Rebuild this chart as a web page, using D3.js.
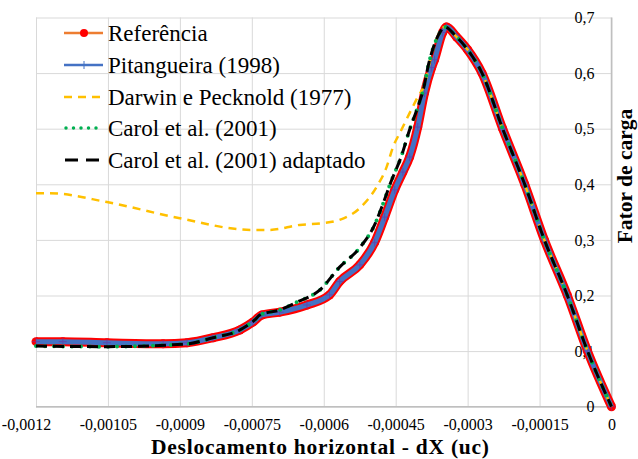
<!DOCTYPE html>
<html lang="pt">
  <head>
    <meta charset="UTF-8" />
    <title>Fator de carga x deslocamento</title>
    <style>
      body { margin: 0; background: #fff; }
      svg { display: block; }
      svg text { font-family: "Liberation Serif", "Times New Roman", serif; }
      .grid line { stroke: #d9d9d9; stroke-width: 1; }
      .grid path { display: none; }
    </style>
  </head>
  <body>
    <div class="chart"></div>
    <script src="https://d3js.org/d3.v7.min.js"></script>
    <script>
      const FONT = "Liberation Serif";

      // eixos
      const xTicks = [-0.0012, -0.00105, -0.0009, -0.00075, -0.0006, -0.00045, -0.0003, -0.00015, 0];
      const xTickLabels = ["-0,0012", "-0,00105", "-0,0009", "-0,00075", "-0,0006", "-0,00045", "-0,0003", "-0,00015", "0"];
      const yTicks = [0, 0.1, 0.2, 0.3, 0.4, 0.5, 0.6, 0.7];
      const yTickLabels = ["0", "0,1", "0,2", "0,3", "0,4", "0,5", "0,6", "0,7"];

      // trecho descendente comum
      const descX = [-0.000323, -0.0003, -0.00027, -0.000227, -0.000181, -0.00014, -0.000092, -0.00005, 0];
      const descY = [0.665, 0.642, 0.6, 0.5, 0.4, 0.3, 0.2, 0.1, 0];

      // Referência / Pitangueira (1998)
      const refX = [-0.0012, -0.001144, -0.001052, -0.000935, -0.000885, -0.000831, -0.000775, -0.000748, -0.000729, -0.000692, -0.000635, -0.000588, -0.000567, -0.000525, -0.000494, -0.000473, -0.000452, -0.000435, -0.000421, -0.000404, -0.00039, -0.000375, -0.000369, -0.000352, -0.000344];
      const refY = [0.117, 0.117, 0.115, 0.113, 0.115, 0.124, 0.138, 0.152, 0.165, 0.17, 0.183, 0.201, 0.225, 0.255, 0.295, 0.341, 0.39, 0.422, 0.449, 0.503, 0.564, 0.61, 0.624, 0.673, 0.683];

      // Carol et al. (2001) e adaptado
      const carolX = [-0.0012, -0.001052, -0.000885, -0.000831, -0.000775, -0.000744, -0.000733, -0.000692, -0.000656, -0.000608, -0.000567, -0.000525, -0.000494, -0.000479, -0.00046, -0.000438, -0.000421, -0.000406, -0.00039, -0.000383, -0.000373, -0.000358, -0.000348];
      const carolY = [0.109, 0.108, 0.113, 0.124, 0.138, 0.156, 0.165, 0.174, 0.188, 0.21, 0.251, 0.286, 0.327, 0.359, 0.404, 0.451, 0.498, 0.534, 0.579, 0.61, 0.642, 0.673, 0.683];

      // Darwin e Pecknold (1977)
      const darwinX = [-0.0012, -0.001171, -0.001052, -0.0009, -0.000752, -0.000713, -0.00065, -0.000602, -0.000567, -0.000525, -0.00049, -0.000469, -0.000456, -0.000438, -0.000421, -0.000404, -0.00039, -0.000373, -0.000358, -0.000348];
      const darwinY = [0.384, 0.384, 0.368, 0.339, 0.318, 0.318, 0.327, 0.33, 0.336, 0.357, 0.395, 0.431, 0.466, 0.498, 0.528, 0.557, 0.579, 0.642, 0.673, 0.683];

      const zip = (xs, ys) => xs.map((x, i) => ({ x: x, y: ys[i] }));
      const withDesc = (xs, ys) => zip(xs, ys).concat(zip(descX, descY));

      const series = [
        { name: "Referência", data: withDesc(refX, refY) },
        { name: "Pitangueira (1998)", data: withDesc(refX, refY) },
        { name: "Darwin e Pecknold (1977)", data: withDesc(darwinX, darwinY) },
        { name: "Carol et al. (2001)", data: withDesc(carolX, carolY) },
        { name: "Carol et al. (2001) adaptado", data: withDesc(carolX, carolY) },
      ];

      const w = 638, h = 459;
      const svg = d3.select(".chart").append("svg")
        .attr("width", w).attr("height", h)
        .attr("font-family", FONT);

      const xScale = d3.scaleLinear().domain([-0.0012, 0]).range([36, 611.5]);
      const yScale = d3.scaleLinear().domain([0, 0.7]).range([406.7, 17.5]);

      // grade
      svg.append("g").attr("class", "grid")
        .attr("transform", `translate(0, ${yScale(0)})`)
        .call(d3.axisBottom(xScale).tickValues(xTicks).tickSize(-(yScale(0) - yScale(0.7))).tickFormat(""));
      svg.append("g").attr("class", "grid")
        .attr("transform", `translate(${xScale(-0.0012)}, 0)`)
        .call(d3.axisRight(yScale).tickValues(yTicks).tickSize(xScale(0) - xScale(-0.0012)).tickFormat(""));

      // linhas dos eixos
      svg.append("line")
        .attr("x1", xScale(-0.0012)).attr("x2", xScale(0))
        .attr("y1", yScale(0)).attr("y2", yScale(0))
        .attr("stroke", "#bfbfbf").attr("stroke-width", 1.5);
      svg.append("line")
        .attr("x1", xScale(0)).attr("x2", xScale(0))
        .attr("y1", yScale(0)).attr("y2", yScale(0.7))
        .attr("stroke", "#bfbfbf").attr("stroke-width", 1.5);

      // rótulos dos eixos
      const xAxis = d3.axisBottom(xScale).tickValues(xTicks).tickSize(0).tickPadding(12)
        .tickFormat((d, i) => xTickLabels[i]);
      const gx = svg.append("g").attr("transform", `translate(0, ${yScale(0)})`).call(xAxis)
        .attr("font-family", FONT).attr("font-size", 16);
      gx.select(".domain").remove();
      gx.selectAll("text").attr("fill", "#000");
      // primeiro rótulo encostado na borda esquerda
      gx.selectAll("text").filter((d, i) => i === 0).attr("dx", -10);

      const yAxis = d3.axisLeft(yScale).tickValues(yTicks).tickSize(0).tickPadding(17)
        .tickFormat((d, i) => yTickLabels[i]);
      const gy = svg.append("g").attr("transform", `translate(${xScale(0)}, 0)`).call(yAxis)
        .attr("font-family", FONT).attr("font-size", 16);
      gy.select(".domain").remove();
      gy.selectAll("text").attr("fill", "#000");

      svg.append("text")
        .attr("x", 320).attr("y", 454.3)
        .attr("text-anchor", "middle")
        .attr("font-family", FONT)
        .attr("font-size", 21.5).attr("font-weight", "bold")
        .attr("textLength", 338).attr("lengthAdjust", "spacing")
        .text("Deslocamento horizontal - dX (uc)");
      svg.append("text")
        .attr("transform", "translate(632, 176) rotate(-90)")
        .attr("text-anchor", "middle")
        .attr("font-family", FONT)
        .attr("font-size", 21.5).attr("font-weight", "bold")
        .text("Fator de carga");

      const line = d3.line().x((d) => xScale(d.x)).y((d) => yScale(d.y)).curve(d3.curveMonotoneX);

      // Referência: faixa vermelha de marcadores
      svg.append("path").datum(series[0].data).attr("d", line)
        .attr("fill", "none").attr("stroke", "#ff0000").attr("stroke-width", 9).attr("stroke-linejoin", "round");
      svg.append("g").selectAll("circle").data(series[0].data).enter().append("circle")
        .attr("cx", (d) => xScale(d.x)).attr("cy", (d) => yScale(d.y)).attr("r", 4.5).attr("fill", "#ff0000");

      // Pitangueira
      svg.append("path").datum(series[1].data).attr("d", line)
        .attr("fill", "none").attr("stroke", "#4472c4").attr("stroke-width", 5).attr("stroke-linejoin", "round");
      svg.append("g").selectAll("path").data(series[1].data).enter().append("path")
        .attr("d", (d) => `M${xScale(d.x)},${yScale(d.y) - 4}v8M${xScale(d.x) - 4},${yScale(d.y)}h8`)
        .attr("stroke", "#7030a0").attr("stroke-width", 1).attr("opacity", 0.6);

      // Darwin e Pecknold
      svg.append("path").datum(series[2].data).attr("d", line)
        .attr("fill", "none").attr("stroke", "#ffc000").attr("stroke-width", 2.5).attr("stroke-dasharray", "8,6");

      // Carol et al.
      svg.append("path").datum(series[3].data).attr("d", line)
        .attr("fill", "none").attr("stroke", "#00b050").attr("stroke-width", 4)
        .attr("stroke-linecap", "round").attr("stroke-dasharray", "0,9");

      // Carol et al. adaptado
      svg.append("path").datum(series[4].data).attr("d", line)
        .attr("fill", "none").attr("stroke", "#000").attr("stroke-width", 3).attr("stroke-dasharray", "11,6");

      // legenda
      const legend = svg.append("g").attr("font-family", FONT);
      const rowY = [33, 65, 97, 128, 160];
      series.forEach((s, i) => {
        const g = legend.append("g").attr("transform", `translate(0, ${rowY[i]})`);
        if (i === 0) {
          g.append("line").attr("x1", 64).attr("x2", 103).attr("stroke", "#ed7d31").attr("stroke-width", 2.5);
          g.append("circle").attr("cx", 84).attr("r", 4).attr("fill", "#ff0000");
        } else if (i === 1) {
          g.append("line").attr("x1", 64).attr("x2", 103).attr("stroke", "#4472c4").attr("stroke-width", 2.5);
          g.append("path").attr("d", "M84,-4v8").attr("stroke", "#4472c4").attr("stroke-width", 1);
        } else if (i === 2) {
          g.append("line").attr("x1", 64).attr("x2", 103).attr("stroke", "#ffc000").attr("stroke-width", 2.5).attr("stroke-dasharray", "8,6");
        } else if (i === 3) {
          g.append("line").attr("x1", 66).attr("x2", 103).attr("stroke", "#00b050").attr("stroke-width", 3.5)
            .attr("stroke-linecap", "round").attr("stroke-dasharray", "0,7.5");
        } else {
          g.append("line").attr("x1", 65).attr("x2", 103).attr("stroke", "#000").attr("stroke-width", 3).attr("stroke-dasharray", "13,8");
        }
        g.append("text").attr("x", 108).attr("y", 8).attr("font-family", FONT)
          .attr("font-size", 23).attr("fill", "#000").text(s.name);
      });
    </script>
  </body>
</html>
